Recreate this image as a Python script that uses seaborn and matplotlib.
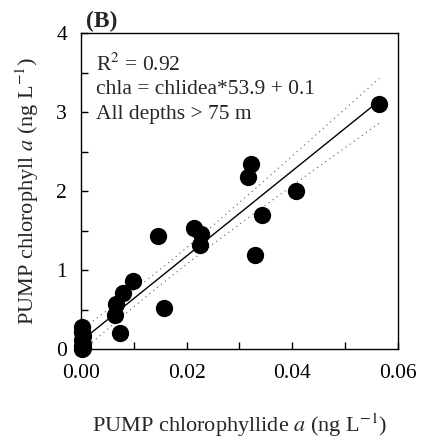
import matplotlib

matplotlib.use("Agg")

import matplotlib.pyplot as plt
import numpy as np
import pandas as pd
import seaborn as sns
from matplotlib.ticker import FormatStrFormatter, MultipleLocator

# PUMP chlorophyllide a vs chlorophyll a (ng L-1), all depths > 75 m
chlidea = [0.0565, 0.0323, 0.0316, 0.0407, 0.0342, 0.0329, 0.0214, 0.0227,
           0.0225, 0.0146, 0.0157, 0.0099, 0.0080, 0.0066, 0.0064, 0.0074,
           0.0003, 0.0003, 0.0004, 0.0003, 0.0004, 0.0003, 0.0004, 0.0003]
chla = [3.10, 2.34, 2.18, 2.00, 1.70, 1.19, 1.53, 1.46,
        1.32, 1.43, 0.515, 0.865, 0.705, 0.57, 0.43, 0.20,
        0.28, 0.22, 0.16, 0.11, 0.07, 0.04, 0.02, 0.00]

slope = 53.9
intercept = 0.1
r_squared = "0.92"

df = pd.DataFrame({"chlidea": chlidea, "chla": chla})

sns.set_style("ticks")
plt.rcParams["font.family"] = ["Liberation Serif", "DejaVu Serif"]
plt.rcParams["mathtext.fontset"] = "stix"

fig = plt.figure(figsize=(4.21, 4.43), dpi=100)
ax = fig.add_axes([0.192, 0.212, 0.753, 0.713])

# regression line and confidence band of the mean
x_fit = np.linspace(0, df["chlidea"].max(), 100)
y_fit = slope * x_fit + intercept
residuals = df["chla"] - (slope * df["chlidea"] + intercept)
n = len(df)
s = np.sqrt((residuals ** 2).sum() / (n - 2))
x_mean = df["chlidea"].mean()
sxx = ((df["chlidea"] - x_mean) ** 2).sum()
half_width = 1.7 * s * np.sqrt(1 / n + (x_fit - x_mean) ** 2 / sxx)

ax.plot(x_fit, y_fit, color="black", lw=1.0, zorder=2)
ax.plot(x_fit, y_fit + half_width, color="0.35", lw=0.8, ls=(0, (1, 3.5)), zorder=2)
ax.plot(x_fit, y_fit - half_width, color="0.35", lw=0.8, ls=(0, (1, 3.5)), zorder=2)

sns.scatterplot(data=df, x="chlidea", y="chla", ax=ax, color="black",
                s=155, edgecolor="black", linewidth=0, zorder=3, clip_on=False)

ax.set_xlim(0, 0.06)
ax.set_ylim(0, 4)
ax.xaxis.set_major_locator(MultipleLocator(0.02))
ax.xaxis.set_minor_locator(MultipleLocator(0.01))
ax.yaxis.set_major_locator(MultipleLocator(1))
ax.yaxis.set_minor_locator(MultipleLocator(0.5))
ax.xaxis.set_major_formatter(FormatStrFormatter("%.2f"))
ax.tick_params(which="both", direction="in", length=5, width=1.0,
               labelsize=15.5, colors="black")
ax.tick_params(axis="x", which="both", pad=11)
ax.tick_params(axis="y", which="both", pad=10)
for spine in ax.spines.values():
    spine.set_visible(True)
    spine.set_color("black")
    spine.set_linewidth(1.0)

ax.set_xlabel(r"PUMP chlorophyllide $a$ (ng L$^{\mathrm{-1}}$)", fontsize=16, labelpad=20)
ax.set_ylabel(r"PUMP chlorophyll $a$ (ng L$^{\mathrm{-1}}$)", fontsize=16, labelpad=11)

ax.text(0.047, 0.88, r"R$^{\mathrm{2}}$ = " + r_squared, transform=ax.transAxes,
        fontsize=15.5, ha="left", va="baseline")
ax.text(0.047, 0.808, f"chla = chlidea*{slope} + {intercept}", transform=ax.transAxes,
        fontsize=15.5, ha="left", va="baseline")
ax.text(0.047, 0.73, "All depths > 75 m", transform=ax.transAxes,
        fontsize=15.5, ha="left", va="baseline")

fig.text(0.205, 0.94, "(B)", fontsize=17, fontweight="bold", ha="left", va="baseline")

fig.savefig("out.png", dpi=100)
